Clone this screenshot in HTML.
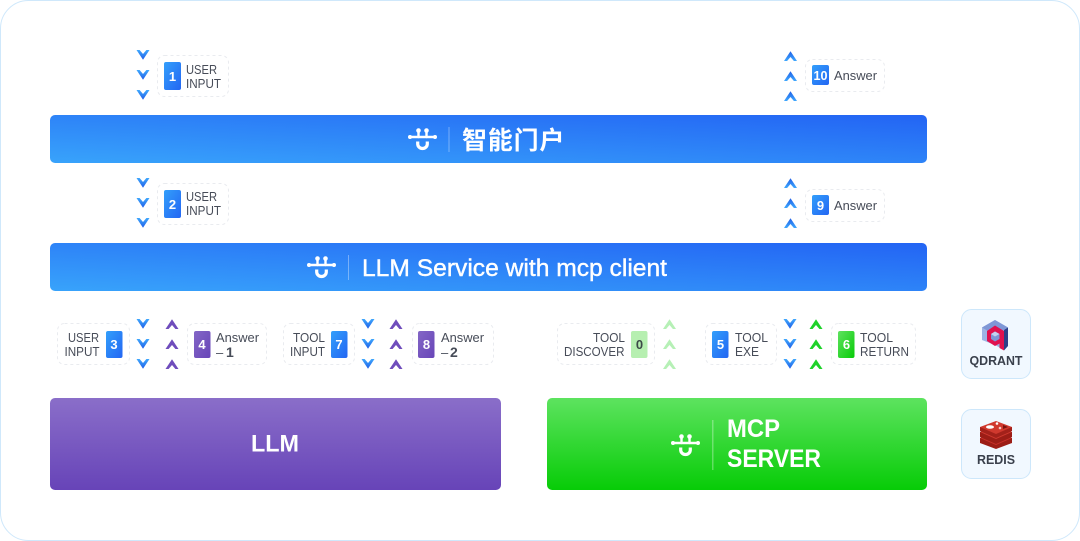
<!DOCTYPE html>
<html><head><meta charset="utf-8"><style>
html,body{margin:0;padding:0;background:#fff;width:1080px;height:541px;overflow:hidden}
svg{display:block}
text{font-family:"Liberation Sans","Noto Sans CJK SC",sans-serif}
.t{font-size:13px;fill:#474c58}
.n{font-size:13px;font-weight:700;fill:#fff;text-anchor:middle}
</style></head><body>
<svg width="1080" height="541" viewBox="0 0 1080 541" xmlns="http://www.w3.org/2000/svg">
<defs>
<linearGradient id="bar" x1="0" y1="1" x2="1" y2="0"><stop offset="0" stop-color="#38a3fb"/><stop offset="1" stop-color="#2364f4"/></linearGradient>
<linearGradient id="bb" x1="0" y1="0" x2="1" y2="1"><stop offset="0" stop-color="#339ffb"/><stop offset="1" stop-color="#2366f3"/></linearGradient>
<linearGradient id="pb" x1="0" y1="0" x2="1" y2="1"><stop offset="0" stop-color="#8366c6"/><stop offset="1" stop-color="#6845b8"/></linearGradient>
<linearGradient id="gb" x1="0" y1="0" x2="1" y2="1"><stop offset="0" stop-color="#5fe260"/><stop offset="1" stop-color="#08cc08"/></linearGradient>
<linearGradient id="pv" x1="0" y1="0" x2="0" y2="1"><stop offset="0" stop-color="#8a6ec9"/><stop offset="1" stop-color="#6744b8"/></linearGradient>
<linearGradient id="gv" x1="0" y1="0" x2="0" y2="1"><stop offset="0" stop-color="#5de35f"/><stop offset="1" stop-color="#07cc07"/></linearGradient>
<linearGradient id="cd" x1="0" y1="0" x2="0" y2="1"><stop offset="0" stop-color="#3fa8fd"/><stop offset="1" stop-color="#1f5fe8"/></linearGradient>
<linearGradient id="cu" x1="0" y1="1" x2="0" y2="0"><stop offset="0" stop-color="#3fa8fd"/><stop offset="1" stop-color="#1f5fe8"/></linearGradient>
<polygon id="dn" points="-6.500,-5 -3.400,-5 0,-1 3.400,-5 6.500,-5 0,4.700"/>
<polygon id="up" points="-6.500,5 -3.400,5 0,1 3.400,5 6.500,5 0,-4.700"/>
<g id="logo" fill="none" stroke="#fff" stroke-linecap="round">
<path d="M-12 -2H12" stroke-width="2.400"/>
<path d="M-4 -8V-2M4 -8V-2" stroke-width="2.400"/>
<path d="M-4.800 2.500V5A4.800 4.500 0 0 0 4.800 5V2.500" stroke-width="3.200" stroke-linecap="butt"/>
<g fill="#fff" stroke="none"><circle cx="-4" cy="-8.500" r="2.300"/><circle cx="4" cy="-8.500" r="2.300"/><circle cx="-12.500" cy="-2" r="2"/><circle cx="12.500" cy="-2" r="2"/></g>
</g>
</defs>

<rect x="0.5" y="0.5" width="1079" height="540" rx="28" fill="#fff" stroke="#cfe8fb"/>

<!-- bars -->
<rect x="50" y="115" width="877" height="48" rx="5" fill="url(#bar)"/>
<rect x="50" y="243" width="877" height="48" rx="5" fill="url(#bar)"/>
<rect x="50" y="398" width="451" height="92" rx="5" fill="url(#pv)"/>
<rect x="547" y="398" width="380" height="92" rx="5" fill="url(#gv)"/>

<use href="#logo" x="422.500" y="139"/>
<rect x="448.500" y="127" width="1" height="25" fill="#fff" opacity=".35"/>
<text x="462" y="149" font-size="25" font-weight="700" fill="#fff" letter-spacing="0.800">智能门户</text>

<use href="#logo" x="321.500" y="267"/>
<rect x="348" y="255" width="1" height="25" fill="#fff" opacity=".35"/>
<text x="362" y="276" font-size="24" fill="#fff" stroke="#fff" stroke-width=".4" textLength="305" lengthAdjust="spacingAndGlyphs">LLM Service with mcp client</text>

<text x="275" y="451.500" font-size="24" font-weight="700" fill="#fff" text-anchor="middle" textLength="48" lengthAdjust="spacingAndGlyphs">LLM</text>

<use href="#logo" x="685.500" y="445"/>
<rect x="712" y="420" width="1.500" height="50" fill="#fff" opacity=".3"/>
<text x="727" y="437" font-size="25" font-weight="700" fill="#fff" textLength="53" lengthAdjust="spacingAndGlyphs">MCP</text>
<text x="727" y="467" font-size="25" font-weight="700" fill="#fff" textLength="94" lengthAdjust="spacingAndGlyphs">SERVER</text>

<!-- dashed boxes -->
<g fill="none" stroke="#e9ebef" stroke-width="1" stroke-dasharray="3 3">
<rect x="157.500" y="55.500" width="71" height="41" rx="7"/>
<rect x="157.500" y="183.500" width="71" height="41" rx="7"/>
<rect x="805.500" y="59.500" width="79" height="32" rx="7"/>
<rect x="805.500" y="189.500" width="79" height="32" rx="7"/>
<rect x="57.500" y="323.500" width="72" height="41" rx="7"/>
<rect x="187.500" y="323.500" width="79" height="41" rx="7"/>
<rect x="283.500" y="323.500" width="71" height="41" rx="7"/>
<rect x="412.500" y="323.500" width="81" height="41" rx="7"/>
<rect x="557.500" y="323.500" width="97" height="41" rx="7"/>
<rect x="705.500" y="323.500" width="71" height="41" rx="7"/>
<rect x="831.500" y="323.500" width="84" height="41" rx="7"/>
</g>

<!-- chevrons -->
<g fill="url(#cd)">
<use href="#dn" x="143" y="55"/><use href="#dn" x="143" y="75"/><use href="#dn" x="143" y="95"/>
<use href="#dn" x="143" y="183"/><use href="#dn" x="143" y="203"/><use href="#dn" x="143" y="223"/>
<use href="#dn" x="143" y="324"/><use href="#dn" x="143" y="344"/><use href="#dn" x="143" y="364"/>
<use href="#dn" x="368" y="324"/><use href="#dn" x="368" y="344"/><use href="#dn" x="368" y="364"/>
<use href="#dn" x="790" y="324"/><use href="#dn" x="790" y="344"/><use href="#dn" x="790" y="364"/>
</g>
<g fill="url(#cu)">
<use href="#up" x="790.500" y="56"/><use href="#up" x="790.500" y="76"/><use href="#up" x="790.500" y="96"/>
<use href="#up" x="790.500" y="183"/><use href="#up" x="790.500" y="203"/><use href="#up" x="790.500" y="223"/>
</g>
<g fill="#6f4dbc">
<use href="#up" x="172" y="324"/><use href="#up" x="172" y="344"/><use href="#up" x="172" y="364"/>
<use href="#up" x="396" y="324"/><use href="#up" x="396" y="344"/><use href="#up" x="396" y="364"/>
</g>
<g fill="#b6f0b6">
<use href="#up" x="669.500" y="324"/><use href="#up" x="669.500" y="344"/><use href="#up" x="669.500" y="364"/>
</g>
<g fill="#1fd22a">
<use href="#up" x="816" y="324"/><use href="#up" x="816" y="344"/><use href="#up" x="816" y="364"/>
</g>

<!-- badges -->
<rect x="164" y="62" width="17" height="28" rx="2" fill="url(#bb)"/><text class="n" x="172.500" y="81">1</text>
<rect x="164" y="190" width="17" height="28" rx="2" fill="url(#bb)"/><text class="n" x="172.500" y="209">2</text>
<rect x="812" y="65" width="17" height="20" rx="2" fill="url(#bb)"/><text class="n" x="820.500" y="80" textLength="14" lengthAdjust="spacingAndGlyphs">10</text>
<rect x="812" y="195" width="17" height="20" rx="2" fill="url(#bb)"/><text class="n" x="820.500" y="210">9</text>
<rect x="106" y="331" width="16.500" height="27" rx="2" fill="url(#bb)"/><text class="n" x="114" y="349">3</text>
<rect x="194" y="331" width="16.500" height="27" rx="2" fill="url(#pb)"/><text class="n" x="202" y="349">4</text>
<rect x="331" y="331" width="16.500" height="27" rx="2" fill="url(#bb)"/><text class="n" x="339" y="349">7</text>
<rect x="418" y="331" width="16.500" height="27" rx="2" fill="url(#pb)"/><text class="n" x="426.500" y="349">8</text>
<rect x="631" y="331" width="16.500" height="27" rx="2" fill="#b6efb0"/><text class="n" x="639.500" y="349" style="fill:#3c4a48">0</text>
<rect x="712" y="331" width="16.500" height="27" rx="2" fill="url(#bb)"/><text class="n" x="720.500" y="349">5</text>
<rect x="838" y="331" width="16.500" height="27" rx="2" fill="url(#gb)"/><text class="n" x="846.500" y="349">6</text>

<!-- labels -->
<text class="t" x="186" y="74" textLength="31" lengthAdjust="spacingAndGlyphs">USER</text><text class="t" x="186" y="88" textLength="35" lengthAdjust="spacingAndGlyphs">INPUT</text>
<text class="t" x="186" y="201" textLength="31" lengthAdjust="spacingAndGlyphs">USER</text><text class="t" x="186" y="215" textLength="35" lengthAdjust="spacingAndGlyphs">INPUT</text>
<text class="t" x="834" y="80" textLength="43" lengthAdjust="spacingAndGlyphs">Answer</text>
<text class="t" x="834" y="210" textLength="43" lengthAdjust="spacingAndGlyphs">Answer</text>
<text class="t" x="68" y="342" textLength="31" lengthAdjust="spacingAndGlyphs">USER</text><text class="t" x="64.500" y="356" textLength="35" lengthAdjust="spacingAndGlyphs">INPUT</text>
<text class="t" x="216" y="342" textLength="43" lengthAdjust="spacingAndGlyphs">Answer</text>
<text class="t" x="216" y="357">–</text><text class="t" x="226" y="357" style="font-weight:700;font-size:14px">1</text>
<text class="t" x="293" y="342" textLength="32" lengthAdjust="spacingAndGlyphs">TOOL</text><text class="t" x="290" y="356" textLength="35" lengthAdjust="spacingAndGlyphs">INPUT</text>
<text class="t" x="441" y="342" textLength="43" lengthAdjust="spacingAndGlyphs">Answer</text>
<text class="t" x="441" y="357">–</text><text class="t" x="450" y="357" style="font-weight:700;font-size:14px">2</text>
<text class="t" x="593" y="342" textLength="32" lengthAdjust="spacingAndGlyphs">TOOL</text><text class="t" x="564" y="356" textLength="60.500" lengthAdjust="spacingAndGlyphs">DISCOVER</text>
<text class="t" x="735" y="342" textLength="33" lengthAdjust="spacingAndGlyphs">TOOL</text><text class="t" x="735" y="356" textLength="24" lengthAdjust="spacingAndGlyphs">EXE</text>
<text class="t" x="860" y="342" textLength="33" lengthAdjust="spacingAndGlyphs">TOOL</text><text class="t" x="860" y="356" textLength="49" lengthAdjust="spacingAndGlyphs">RETURN</text>

<!-- side cards -->
<rect x="961.500" y="309.500" width="69" height="69" rx="10" fill="#f1f8ff" stroke="#cde7fb"/>
<rect x="961.500" y="409.500" width="69" height="69" rx="10" fill="#f1f8ff" stroke="#cde7fb"/>
<text x="996" y="365" font-size="13" font-weight="700" fill="#3a404c" text-anchor="middle" textLength="53" lengthAdjust="spacingAndGlyphs">QDRANT</text>
<text x="996" y="464" font-size="13" font-weight="700" fill="#3a404c" text-anchor="middle" textLength="38" lengthAdjust="spacingAndGlyphs">REDIS</text>

<!-- qdrant logo -->
<polygon points="995,320 1008,327.500 1008,344 1004,350 995,345 982,340 982,327.500" fill="#9db3e4"/>
<polygon points="995,320 1008,327.500 995,335 982,327.500" fill="#7f97d6"/>
<polygon points="1004,330 1008,327.500 1008,346 1004,350.500" fill="#2d3f88"/>
<path d="M995 325.500 1004 331V350.500L999.500 348V343.500L995 346 987 341V331Z" fill="#e0114f"/>
<polygon points="995,331.500 999.500,334 999.500,339 995,341.500 991,339 991,334" fill="#7f97d6"/>
<polygon points="995,331.500 999.500,334 995,336.500 991,334" fill="#c4d1ef"/>

<!-- redis logo -->
<path d="M980 438V443L996 449 1012 443V438Z" fill="#9c1d16"/>
<path d="M980 438 996 431 1012 438 996 445Z" fill="#c8302a"/>
<path d="M980 432V437L996 444 1012 437V432Z" fill="#9c1d16"/>
<path d="M980 432 996 425 1012 432 996 439Z" fill="#cf3a30"/>
<path d="M980 427V431L996 438 1012 431V427Z" fill="#a3211a"/>
<path d="M980 427 996 421 1012 427 996 434Z" fill="#d0392e"/>
<ellipse cx="990" cy="427" rx="4" ry="1.800" fill="#fff"/>
<circle cx="997" cy="423.500" r="1.300" fill="#fff"/>
<circle cx="1000" cy="428" r="1.300" fill="#f6c9c4"/>
<polygon points="1003,425 1008,427 1003,429" fill="#7a140f"/>
</svg>
</body></html>
